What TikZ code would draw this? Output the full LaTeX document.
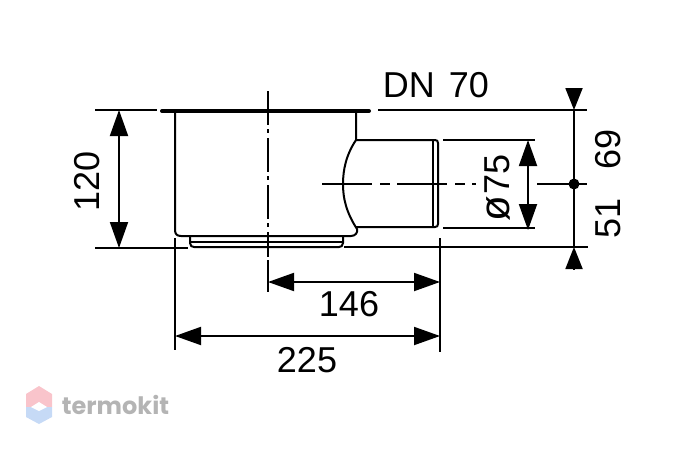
\documentclass[tikz,border=0pt]{standalone}
\usepackage{fontspec}
\setmainfont{Liberation Sans}
\newfontfamily\brandfont{Poppins}
\usetikzlibrary{arrows.meta}
\definecolor{brandpink}{HTML}{F9C4CB}
\definecolor{brandblue}{HTML}{C6DAF6}
\definecolor{brandgrey}{HTML}{B4B4B4}
\tikzset{
  part/.style={line width=2pt,line join=round},
  flange/.style={line width=4pt,line cap=round},
  dimline/.style={line width=1.9pt},
  dimboth/.style={dimline,{Triangle[length=26pt,width=18pt]}-{Triangle[length=26pt,width=18pt]}},
  dimhead/.style={dimline,-{Triangle[length=22pt,width=17pt]}},
  dimtext/.style={inner sep=0pt,font=\fontsize{36}{40}\selectfont}
}
\begin{document}
\begin{tikzpicture}[x=1pt,y=-1pt]
  \useasboundingbox (0,0) rectangle (700,450);

  % named points of the drawing
  \coordinate (topL) at (95,110);
  \coordinate (topLe) at (157,110);
  \coordinate (topR) at (378,110);
  \coordinate (topRe) at (587,110);
  \coordinate (botL) at (95,248);
  \coordinate (botLe) at (188,248);
  \coordinate (botR) at (344,247);
  \coordinate (botRe) at (588,247);
  \coordinate (pipeT) at (443,140);
  \coordinate (pipeTe) at (535,140);
  \coordinate (pipeB) at (443,228);
  \coordinate (pipeBe) at (535,228);
  \coordinate (extA) at (175,238);
  \coordinate (extAe) at (175,350);
  \coordinate (extB) at (440,238);
  \coordinate (extBe) at (440,352);
  \coordinate (axisC) at (574,184);
  \coordinate (axisCs) at (537,184);
  \coordinate (axisCe) at (587,184);

  % body
  \draw[flange] (162,111) -- (369,111);
  \draw[part] (175,111) -- (175,230)
    .. controls (175,234) and (177,236) .. (181,236) -- (351,236)
    .. controls (355,236) and (358,233) .. (357,229)
    .. controls (346,212) and (343,198) .. (343,184)
    .. controls (343,170) and (346,155) .. (356,140) -- (356,111);
  \draw[part] (190,236) -- (190,243) .. controls (190,246) and (192,247) .. (194,247)
    -- (339,247) .. controls (341,247) and (343,246) .. (343,243) -- (343,236);
  \draw[part] (190,242) -- (343,242);
  % pipe
  \draw[part] (356,140) -- (435,140) .. controls (437,140) and (438,141) .. (438,143)
    -- (438,224) .. controls (438,226) and (437,227) .. (435,227) -- (356,227);
  \draw[part] (433,140) -- (433,227);

  % axes
  \draw[dimline,dash pattern=on 34pt off 4pt on 4pt off 5pt] (268,91) -- (268,257);
  \draw[dimline] (268,260) -- (268,292);
  \draw[dimline,dash pattern=on 50pt off 8pt on 10pt off 7pt] (322,184) -- (476,184);

  % extension lines
  \foreach \from/\to in
  {topL/topLe, topR/topRe, botL/botLe, botR/botRe, pipeT/pipeTe, pipeB/pipeBe,
   extA/extAe, extB/extBe, axisCs/axisCe}
      \draw[dimline] (\from) -- (\to);

  % dimensions
  \coordinate (hA) at (119,110);
  \coordinate (hB) at (119,248);
  \coordinate (dA) at (528,140);
  \coordinate (dB) at (528,230);
  \coordinate (wA) at (268,282);
  \coordinate (wB) at (440,282);
  \coordinate (lA) at (175,336);
  \coordinate (lB) at (440,336);
  \foreach \from/\to in {hA/hB, dA/dB, wA/wB, lA/lB}
      \draw[dimboth] (\from) -- (\to);

  \coordinate (headT) at (574,88);
  \coordinate (tipT) at (574,110);
  \coordinate (headB) at (574,269);
  \coordinate (tipB) at (574,247);
  \draw[dimhead] (headT) -- (tipT);
  \draw[dimhead] (headB) -- (tipB);
  \draw[dimline] (tipT) -- (tipB);
  \fill (axisC) circle (5.5pt);

  % labels
  \node[dimtext] (dn) at (436,85) {DN\hspace{4pt} 70};
  \node[dimtext,rotate=90] (height) at (87,181) {120};
  \node[dimtext] (offset) at (349,304) {146};
  \node[dimtext] (length) at (307,360) {225};
  \node[dimtext,rotate=90] (dia) at (497,188) {{\fontsize{42}{44}\selectfont ø}\hspace{1pt}75};
  \node[dimtext,rotate=90] (upper) at (608,149) {69};
  \node[dimtext,rotate=90] (lower) at (608,218) {51};

  % mark
  \fill[brandpink] (26,407) -- (26,394) -- (39,386) -- (52,394) -- (52,407) -- cycle;
  \fill[brandblue] (26,407) -- (52,407) -- (52,417) -- (39,424) -- (26,417) -- cycle;
  \fill[white] (31,407) -- (39,402) -- (47,407) -- (39,411) -- cycle;
  \node[inner sep=0pt,text=brandgrey,font=\brandfont\bfseries\fontsize{24}{28}\selectfont] (brand) at (115.5,405) {termokit};
\end{tikzpicture}
\end{document}
